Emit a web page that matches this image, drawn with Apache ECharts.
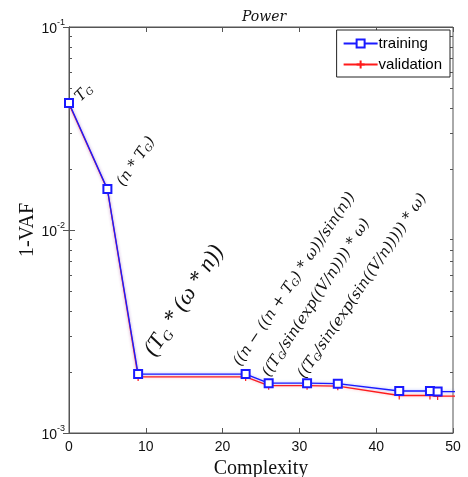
<!DOCTYPE html>
<html>
<head>
<meta charset="utf-8">
<script src="https://cdn.jsdelivr.net/npm/echarts@6/dist/echarts.min.js"></script>
<style>
  html, body { margin: 0; padding: 0; background: #fff; }
  #chart { width: 468px; height: 477px; }
</style>
</head>
<body>
<div id="chart"></div>
<script>
// Model complexity vs. 1-VAF error for the Power data set
const complexity = [0, 5, 9, 23, 26, 31, 35, 43, 47, 48, 53];
const training   = [0.0422, 0.0159, 0.00195, 0.00195, 0.00176, 0.00176, 0.00175, 0.00161, 0.00161, 0.0016, 0.0016];
const validation = [0.0418, 0.0158, 0.00189, 0.00189, 0.00171, 0.00171, 0.0017, 0.00153, 0.00153, 0.00152, 0.00152];

// Expressions found at each complexity step (rich-text markup, G is a subscript)
const expressions = [
  '{m|T}{s|G}',
  '{m|(n * T}{s|G}{m|)}',
  '{L|(T}{Ls|G}{L| * (ω * n))}',
  '{m|((n − ((n + T}{s|G}{m|) * ω))/sin(n))}',
  '{m|((T}{s|G}{m|/sin(exp((V/n)))) * ω)}',
  '{m|((T}{s|G}{m|/sin(exp(sin((V/n))))) * ω)}'
];
// label placement along/across the rotated text direction
const exprRotate = [45, 56, 57, 56, 57, 56];
const exprOffset = [[9, 12], [11, 17], [23, 12], [3, -4], [5, 2], [2, 0]];

const xMin = 0, xMax = 50, xStep = 10;
const yMin = 0.001, yMax = 0.1;
const minorTicks = [];
[0.001, 0.01].forEach(function (d) {
  for (let k = 2; k <= 9; k++) minorTicks.push(+(k * d).toPrecision(3));
});

const serif = 'DejaVu Serif';
const serif2 = 'Liberation Serif';
const sans = 'Liberation Sans';
const frame = '#555';

const richExpr = {
  m:  { fontFamily: serif, fontStyle: 'italic', fontSize: 15, lineHeight: 17, color: '#111' },
  s:  { fontFamily: serif, fontStyle: 'italic', fontSize: 9.5, lineHeight: 17, verticalAlign: 'bottom', color: '#111' },
  L:  { fontFamily: serif2, fontStyle: 'italic', fontSize: 23, lineHeight: 27, color: '#111' },
  Ls: { fontFamily: serif2, fontStyle: 'italic', fontSize: 14, lineHeight: 27, verticalAlign: 'bottom', color: '#111' }
};

const trainingData = complexity.map(function (x, i) {
  const item = { value: [x, training[i]] };
  if (i < expressions.length) {
    item.label = {
      show: true,
      formatter: expressions[i],
      position: 'inside',
      align: 'left',
      verticalAlign: 'bottom',
      rotate: exprRotate[i],
      offset: exprOffset[i],
      rich: richExpr
    };
  }
  return item;
});
const validationData = complexity.map(function (x, i) { return [x, validation[i]]; });

const plusPath = 'path://M0,5L10,5M5,0L5,10';

const chart = echarts.init(document.getElementById('chart'), null, { renderer: 'canvas' });
chart.setOption({
  animation: false,
  backgroundColor: '#fff',
  title: {
    text: 'Power',
    left: 259,
    textAlign: 'center',
    top: 5,
    textStyle: { fontFamily: serif, fontStyle: 'italic', fontWeight: 'normal', fontSize: 14, color: '#111' }
  },
  legend: {
    data: ['training', 'validation'],
    orient: 'vertical',
    right: 18,
    top: 30,
    padding: [6, 8, 5, 6],
    itemGap: 6,
    itemWidth: 34,
    itemHeight: 10,
    backgroundColor: '#fff',
    borderColor: '#222',
    borderWidth: 1,
    textStyle: { fontFamily: sans, fontSize: 15, color: '#000', padding: [0, 0, 0, -4] }
  },
  grid: {
    left: 69, right: 15, top: 27, bottom: 44,
    outerBoundsMode: 'none',
    show: true, borderColor: frame, borderWidth: 1
  },
  xAxis: [{
    type: 'value', min: xMin, max: xMax, interval: xStep,
    name: 'Complexity', nameLocation: 'middle', nameGap: 26, nameMoveOverlap: false,
    nameTextStyle: { fontFamily: serif2, fontSize: 20, color: '#111', verticalAlign: 'top' },
    axisLine: { lineStyle: { color: frame } },
    axisTick: { inside: true, length: 5, lineStyle: { color: frame } },
    axisLabel: { fontFamily: sans, fontSize: 14, color: '#111', margin: 7 },
    splitLine: { show: false }
  }, {
    type: 'value', min: xMin, max: xMax, interval: xStep, position: 'top',
    axisLine: { lineStyle: { color: frame } },
    axisTick: { inside: true, length: 5, lineStyle: { color: frame } },
    axisLabel: { show: false },
    splitLine: { show: false }
  }],
  yAxis: [{
    type: 'log', logBase: 10, min: yMin, max: yMax,
    name: '1-VAF', nameLocation: 'middle', nameGap: 31, nameRotate: 90, nameMoveOverlap: false,
    nameTextStyle: { fontFamily: serif2, fontSize: 20, color: '#111' },
    axisLine: { lineStyle: { color: frame } },
    axisTick: { inside: true, length: 6, lineStyle: { color: frame } },
    axisLabel: {
      margin: 4,
      formatter: function (v) {
        const e = Math.round(Math.log10(v));
        return '{b|10}{e|' + e + '}';
      },
      rich: {
        b: { fontFamily: sans, fontSize: 14, color: '#111', verticalAlign: 'bottom', lineHeight: 18 },
        e: { fontFamily: sans, fontSize: 9, color: '#111', verticalAlign: 'top', lineHeight: 18 }
      }
    },
    splitLine: { show: false }
  }, {
    type: 'log', logBase: 10, min: yMin, max: yMax, position: 'right',
    axisLine: { lineStyle: { color: frame } },
    axisTick: { inside: true, length: 6, lineStyle: { color: frame } },
    axisLabel: { show: false },
    splitLine: { show: false }
  }],
  series: [{
    name: 'training',
    type: 'line',
    data: trainingData,
    symbol: 'emptyRect',
    symbolSize: 8,
    showAllSymbol: true,
    color: '#1a1aff',
    lineStyle: { width: 1.3, color: '#1a1aff', shadowColor: 'rgba(90,110,255,0.5)', shadowBlur: 3 },
    itemStyle: { color: '#1a1aff', borderColor: '#1a1aff', borderWidth: 1 },
    z: 3
  }, {
    name: 'validation',
    type: 'line',
    data: validationData,
    symbol: plusPath,
    symbolSize: 8,
    showAllSymbol: true,
    color: '#ff1a1a',
    lineStyle: { width: 1.3, color: '#ff1a1a', shadowColor: 'rgba(255,110,110,0.5)', shadowBlur: 3 },
    itemStyle: { color: '#ff1a1a', borderColor: '#ff1a1a', borderWidth: 1.2 },
    z: 2
  }, {
    name: 'minor ticks',
    type: 'custom',
    silent: true,
    data: minorTicks.map(function (v) { return [xMin, v]; }),
    renderItem: function (params, api) {
      const cs = params.coordSys;
      const y = Math.round(api.coord([api.value(0), api.value(1)])[1]) + 0.5;
      const st = { stroke: frame, lineWidth: 1 };
      return {
        type: 'group',
        children: [
          { type: 'line', shape: { x1: cs.x, y1: y, x2: cs.x + 3, y2: y }, style: st },
          { type: 'line', shape: { x1: cs.x + cs.width - 3, y1: y, x2: cs.x + cs.width, y2: y }, style: st }
        ]
      };
    },
    z: 1
  }]
});
</script>
</body>
</html>
